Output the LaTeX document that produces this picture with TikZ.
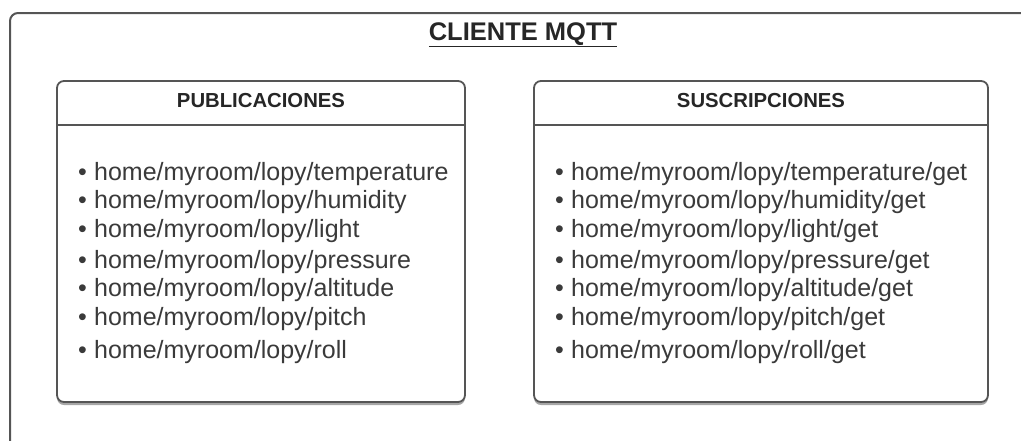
\documentclass[tikz,border=0pt]{standalone}
\usepackage{fontspec}
\setmainfont{Liberation Sans}
\usetikzlibrary{shadows}
\definecolor{linegray}{HTML}{555555}
\definecolor{txtgray}{HTML}{3a3a3a}
\tikzset{
  frame/.style={draw=linegray, line width=2pt, rounded corners=8pt},
  listbox/.style={draw=linegray, line width=1.8pt, rounded corners=7pt, fill=white,
    drop shadow={shadow xshift=0pt, shadow yshift=-3pt, opacity=0.35, fill=black}},
  sep/.style={draw=linegray, line width=1.8pt},
  head/.style={anchor=base, font=\fontsize{20.3}{24}\selectfont\bfseries, text=black!85},
  item/.style={anchor=base west, font=\fontsize{25}{29}\selectfont, text=txtgray, inner sep=0pt},
  titletext/.style={anchor=base, font=\fontsize{25.5}{29}\selectfont\bfseries, text=black!85}
}
\newcommand{\bul}{\makebox[16pt][l]{\textbullet}}
\begin{document}
\begin{tikzpicture}[x=1pt,y=-1pt]
\useasboundingbox (0,0) rectangle (1021,440);
\begin{scope}
\clip (0,0) rectangle (1021,440);
\draw[frame] (10,13) rectangle (1040,470);
\end{scope}
\node[titletext] (title) at (523,40) {\underline{CLIENTE MQTT}};
% left box
\node[listbox, minimum width=408pt, minimum height=321pt, inner sep=0pt] (pub) at (261,241.5) {};
\coordinate (pubL) at (57,125);
\coordinate (pubR) at (465,125);
\draw[sep] (pubL) -- (pubR);
\node[head] (pubh) at (261,107) {PUBLICACIONES};
% right box
\node[listbox, minimum width=454pt, minimum height=321pt, inner sep=0pt] (sus) at (761,241.5) {};
\coordinate (susL) at (534,125);
\coordinate (susR) at (988,125);
\draw[sep] (susL) -- (susR);
\node[head] (sush) at (761,107) {SUSCRIPCIONES};
% items
\node[item] (p1) at (78,180) {\bul home/myroom/lopy/temperature};
\node[item] (p2) at (78,208) {\bul home/myroom/lopy/humidity};
\node[item] (p3) at (78,237) {\bul home/myroom/lopy/light};
\node[item] (p4) at (78,268) {\bul home/myroom/lopy/pressure};
\node[item] (p5) at (78,296) {\bul home/myroom/lopy/altitude};
\node[item] (p6) at (78,325) {\bul home/myroom/lopy/pitch};
\node[item] (p7) at (78,358) {\bul home/myroom/lopy/roll};
\node[item] (s1) at (555,180) {\bul home/myroom/lopy/temperature/get};
\node[item] (s2) at (555,208) {\bul home/myroom/lopy/humidity/get};
\node[item] (s3) at (555,237) {\bul home/myroom/lopy/light/get};
\node[item] (s4) at (555,268) {\bul home/myroom/lopy/pressure/get};
\node[item] (s5) at (555,296) {\bul home/myroom/lopy/altitude/get};
\node[item] (s6) at (555,325) {\bul home/myroom/lopy/pitch/get};
\node[item] (s7) at (555,358) {\bul home/myroom/lopy/roll/get};
\end{tikzpicture}
\end{document}
